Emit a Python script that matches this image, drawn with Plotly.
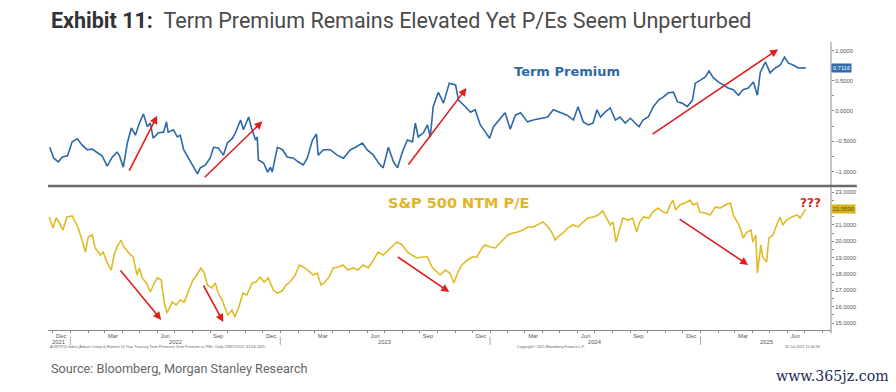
import plotly.graph_objects as go

# ---------------- data ----------------
tp_dates = [
    "2021-11-26", "2021-12-03", "2021-12-11", "2021-12-18", "2021-12-27", "2022-01-04", "2022-01-13",
    "2022-01-21", "2022-01-30", "2022-02-08", "2022-02-17", "2022-02-25", "2022-03-06", "2022-03-15",
    "2022-03-23", "2022-03-27", "2022-04-03", "2022-04-10", "2022-04-17", "2022-04-24", "2022-05-01",
    "2022-05-08", "2022-05-15", "2022-05-20", "2022-05-25", "2022-06-03", "2022-06-12", "2022-06-17",
    "2022-06-20", "2022-06-29", "2022-07-06", "2022-07-11", "2022-07-17", "2022-07-25", "2022-08-03",
    "2022-08-10", "2022-08-15", "2022-08-24", "2022-09-01", "2022-09-07", "2022-09-15", "2022-09-24",
    "2022-10-01", "2022-10-10", "2022-10-15", "2022-10-24", "2022-10-29", "2022-11-07", "2022-11-12",
    "2022-11-19", "2022-11-22", "2022-11-24", "2022-12-03", "2022-12-10", "2022-12-15", "2022-12-18",
    "2022-12-27", "2023-01-05", "2023-01-13", "2023-01-24", "2023-02-01", "2023-02-10", "2023-02-17",
    "2023-02-26", "2023-03-05", "2023-03-08", "2023-03-17", "2023-03-29", "2023-04-10", "2023-04-21",
    "2023-05-03", "2023-05-12", "2023-05-24", "2023-06-01", "2023-06-12", "2023-06-21", "2023-06-29",
    "2023-07-08", "2023-07-17", "2023-07-24", "2023-08-01", "2023-08-10", "2023-08-19", "2023-08-24",
    "2023-08-29", "2023-09-07", "2023-09-14", "2023-09-19", "2023-09-24", "2023-10-03", "2023-10-12",
    "2023-10-22", "2023-11-02", "2023-11-07", "2023-11-19", "2023-11-28", "2023-12-06", "2023-12-15",
    "2023-12-24", "2023-12-31", "2024-01-07", "2024-01-19", "2024-01-27", "2024-02-05", "2024-02-14",
    "2024-02-23", "2024-03-06", "2024-03-16", "2024-03-28", "2024-04-10", "2024-04-20", "2024-05-02",
    "2024-05-14", "2024-05-25", "2024-06-02", "2024-06-11", "2024-06-20", "2024-06-28", "2024-07-05",
    "2024-07-11", "2024-07-19", "2024-07-28", "2024-08-06", "2024-08-14", "2024-08-23", "2024-09-01",
    "2024-09-10", "2024-09-16", "2024-09-23", "2024-10-02", "2024-10-11", "2024-10-20", "2024-10-28",
    "2024-11-06", "2024-11-15", "2024-11-22", "2024-11-30", "2024-12-09", "2024-12-18", "2024-12-23",
    "2025-01-01", "2025-01-09", "2025-01-16", "2025-01-23", "2025-02-01", "2025-02-10", "2025-02-18",
    "2025-02-27", "2025-03-08", "2025-03-16", "2025-03-25", "2025-04-03", "2025-04-10", "2025-04-15",
    "2025-04-24", "2025-05-02", "2025-05-11", "2025-05-20", "2025-05-27", "2025-06-03", "2025-06-11",
    "2025-06-20", "2025-07-03",
]
tp_values = [
    -0.60, -0.78, -0.84, -0.76, -0.74, -0.51, -0.46,
    -0.56, -0.64, -0.63, -0.69, -0.74, -0.91, -0.76,
    -0.68, -0.73, -0.93, -0.53, -0.28, -0.40, -0.20,
    -0.05, -0.26, -0.20, -0.45, -0.36, -0.35, -0.18,
    -0.35, -0.31, -0.43, -0.40, -0.64, -0.78, -0.93,
    -1.04, -0.94, -0.89, -0.78, -0.60, -0.61, -0.73,
    -0.53, -0.45, -0.36, -0.15, -0.31, -0.10, -0.28,
    -0.48, -0.43, -0.81, -0.86, -1.01, -0.93, -1.01,
    -0.60, -0.64, -0.76, -0.78, -0.84, -0.89, -0.78,
    -0.48, -0.38, -0.73, -0.64, -0.64, -0.73, -0.78,
    -0.64, -0.60, -0.53, -0.64, -0.73, -0.86, -0.94,
    -0.60, -0.84, -0.94, -0.69, -0.48, -0.51, -0.20,
    -0.43, -0.36, -0.23, -0.43, 0.07, 0.31, 0.13,
    0.46, 0.43, 0.18, 0.07, -0.02, 0.02, -0.23,
    -0.35, -0.45, -0.26, -0.12, -0.03, -0.30, -0.07,
    -0.03, -0.18, -0.15, -0.12, -0.10, 0.02, -0.02,
    -0.07, -0.15, 0.07, -0.18, -0.23, -0.20, 0.02,
    -0.10, -0.02, 0.05, -0.15, -0.10, -0.20, -0.12,
    -0.20, -0.26, -0.15, -0.10, 0.07, 0.18, 0.23,
    0.30, 0.31, 0.15, 0.13, 0.07, 0.18, 0.46,
    0.51, 0.56, 0.66, 0.55, 0.48, 0.43, 0.38,
    0.35, 0.26, 0.35, 0.38, 0.48, 0.26, 0.64,
    0.81, 0.63, 0.71, 0.76, 0.89, 0.79, 0.76,
    0.71, 0.7116,
]

pe_dates = [
    "2021-11-25", "2021-12-02", "2021-12-07", "2021-12-12", "2021-12-19", "2021-12-26", "2022-01-04",
    "2022-01-09", "2022-01-14", "2022-01-21", "2022-01-27", "2022-02-01", "2022-02-08", "2022-02-13",
    "2022-02-22", "2022-02-27", "2022-03-06", "2022-03-13", "2022-03-18", "2022-03-23", "2022-03-30",
    "2022-04-04", "2022-04-11", "2022-04-20", "2022-04-27", "2022-05-01", "2022-05-06", "2022-05-13",
    "2022-05-20", "2022-05-27", "2022-06-01", "2022-06-08", "2022-06-13", "2022-06-18", "2022-06-27",
    "2022-07-04", "2022-07-11", "2022-07-18", "2022-07-25", "2022-08-02", "2022-08-09", "2022-08-16",
    "2022-08-22", "2022-08-27", "2022-09-04", "2022-09-10", "2022-09-15", "2022-09-22", "2022-09-27",
    "2022-10-02", "2022-10-09", "2022-10-14", "2022-10-21", "2022-10-28", "2022-11-04", "2022-11-13",
    "2022-11-20", "2022-11-27", "2022-12-04", "2022-12-11", "2022-12-20", "2022-12-27", "2023-01-04",
    "2023-01-11", "2023-01-18", "2023-01-27", "2023-02-03", "2023-02-10", "2023-02-18", "2023-02-27",
    "2023-03-06", "2023-03-13", "2023-03-20", "2023-03-27", "2023-04-03", "2023-04-12", "2023-04-20",
    "2023-04-29", "2023-05-08", "2023-05-16", "2023-05-25", "2023-06-03", "2023-06-12", "2023-06-20",
    "2023-06-29", "2023-07-08", "2023-07-16", "2023-07-23", "2023-08-01", "2023-08-10", "2023-08-18",
    "2023-08-27", "2023-09-05", "2023-09-14", "2023-09-22", "2023-09-27", "2023-10-06", "2023-10-15",
    "2023-10-23", "2023-10-30", "2023-11-06", "2023-11-13", "2023-11-22", "2023-12-01", "2023-12-09",
    "2023-12-18", "2023-12-23", "2024-01-01", "2024-01-10", "2024-01-18", "2024-01-27", "2024-02-01",
    "2024-02-10", "2024-02-18", "2024-02-27", "2024-03-07", "2024-03-16", "2024-03-24", "2024-04-02",
    "2024-04-11", "2024-04-18", "2024-04-23", "2024-04-28", "2024-05-07", "2024-05-15", "2024-05-24",
    "2024-06-02", "2024-06-11", "2024-06-19", "2024-06-28", "2024-07-07", "2024-07-15", "2024-07-22",
    "2024-07-28", "2024-08-02", "2024-08-07", "2024-08-12", "2024-08-19", "2024-08-28", "2024-09-05",
    "2024-09-12", "2024-09-17", "2024-09-24", "2024-10-03", "2024-10-10", "2024-10-19", "2024-10-28",
    "2024-11-04", "2024-11-09", "2024-11-14", "2024-11-19", "2024-11-26", "2024-12-05", "2024-12-14",
    "2024-12-19", "2024-12-26", "2024-12-31", "2025-01-09", "2025-01-18", "2025-01-27", "2025-02-04",
    "2025-02-13", "2025-02-22", "2025-02-27", "2025-03-06", "2025-03-11", "2025-03-16", "2025-03-23",
    "2025-03-30", "2025-04-02", "2025-04-07", "2025-04-10", "2025-04-16", "2025-04-19", "2025-04-26",
    "2025-04-30", "2025-05-07", "2025-05-14", "2025-05-19", "2025-05-24", "2025-05-31", "2025-06-09",
    "2025-06-18", "2025-06-23", "2025-06-28", "2025-07-03",
]
pe_values = [
    21.48, 20.80, 21.41, 21.17, 20.68, 21.48, 21.54,
    21.17, 20.87, 20.07, 19.34, 20.26, 20.38, 19.59,
    19.16, 19.34, 18.67, 18.24, 19.16, 19.65, 20.07,
    19.65, 19.34, 19.04, 17.94, 18.37, 17.76, 17.45,
    16.90, 17.45, 17.76, 17.63, 16.29, 15.62, 16.29,
    16.11, 16.41, 16.29, 16.90, 17.63, 17.94, 18.37,
    18.06, 17.33, 17.15, 17.45, 16.84, 16.41, 15.93,
    15.50, 15.80, 15.38, 15.99, 16.84, 16.72, 17.45,
    17.51, 17.82, 17.51, 17.76, 17.02, 16.84, 16.96,
    17.33, 17.51, 17.94, 18.55, 18.43, 18.24, 17.94,
    18.06, 17.33, 17.51, 17.82, 18.37, 18.43, 18.55,
    18.24, 18.37, 18.24, 18.55, 18.37, 18.85, 19.34,
    19.16, 19.46, 19.77, 19.95, 19.77, 19.34, 19.16,
    18.98, 19.04, 19.04, 18.43, 18.24, 17.94, 18.24,
    18.06, 17.45, 18.12, 18.55, 18.85, 19.04, 19.04,
    19.59, 19.77, 19.65, 19.59, 19.89, 20.20, 20.38,
    20.50, 20.56, 20.68, 20.87, 20.87, 20.99, 21.17,
    20.87, 20.50, 20.07, 20.26, 20.50, 20.80, 20.99,
    20.87, 21.17, 21.41, 21.48, 21.60, 21.84, 21.41,
    20.99, 21.17, 19.95, 20.56, 21.41, 21.29, 21.41,
    20.56, 21.17, 21.48, 21.41, 21.78, 22.02, 21.78,
    21.72, 22.21, 22.51, 21.90, 22.21, 22.33, 22.51,
    22.21, 22.33, 21.78, 21.72, 21.60, 22.09, 22.02,
    22.21, 22.33, 21.60, 21.17, 20.80, 20.20, 20.56,
    20.68, 19.95, 20.38, 18.06, 19.77, 19.04, 18.73,
    20.20, 20.38, 20.99, 21.48, 20.99, 21.29, 21.48,
    21.60, 21.41, 21.72, 21.959,
]

month_tick_dates = [
    "2021-12-16", "2022-03-16", "2022-06-15", "2022-09-15", "2022-12-16", "2023-03-16",
    "2023-06-15", "2023-09-15", "2023-12-16", "2024-03-16", "2024-06-15", "2024-09-15",
    "2024-12-16", "2025-03-16", "2025-06-15",
]
month_tick_text = ["Dec", "Mar", "Jun", "Sep", "Dec", "Mar", "Jun", "Sep",
                   "Dec", "Mar", "Jun", "Sep", "Dec", "Mar", "Jun"]
month_starts = [f"{y}-{m:02d}-01" for y in range(2021, 2026) for m in range(1, 13)]
year_label_dates = ["2021-12-12", "2022-07-02", "2023-07-02", "2024-07-01", "2025-04-25"]
year_label_text = ["2021", "2022", "2023", "2024", "2025"]
year_starts = ["2022-01-01", "2023-01-01", "2024-01-01", "2025-01-01"]

tp_ticks = [-1.0, -0.5, 0.0, 0.5, 1.0]
pe_ticks = [15, 16, 17, 18, 19, 20, 21, 23]   # 22 is hidden behind the last-value box

# arrows: (start date, start value, end date, end value)
tp_arrows = [
    ("2022-04-12", -1.01, "2022-06-01", -0.08),
    ("2022-08-20", -1.12, "2022-12-01", -0.17),
    ("2023-08-10", -0.91, "2023-11-21", 0.38),
    ("2024-10-07", -0.40, "2025-05-16", 1.02),
]
pe_arrows = [
    ("2022-03-27", 18.30, "2022-06-08", 15.20),
    ("2022-08-19", 17.39, "2022-09-24", 15.07),
    ("2023-07-22", 19.10, "2023-10-22", 16.90),
    ("2024-11-23", 21.41, "2025-03-25", 18.55),
]

BLUE = "#2d68a6"
GOLD = "#dfbb26"
RED = "#e21d1d"
AXC = "#8a8a8a"
TXT = "#555555"

fig = go.Figure()
fig.add_trace(go.Scatter(x=tp_dates, y=tp_values, mode="lines", xaxis="x", yaxis="y",
                         line=dict(color=BLUE, width=1.6), showlegend=False, hoverinfo="skip"))
fig.add_trace(go.Scatter(x=pe_dates, y=pe_values, mode="lines", xaxis="x", yaxis="y2",
                         line=dict(color=GOLD, width=1.6), showlegend=False, hoverinfo="skip"))

tickfont = dict(family="Liberation Sans, Arial", size=5.8, color=TXT)

# the page body adds an 8px offset, so the figure is 8px smaller and margins shifted
fig.update_layout(
    width=888, height=384,
    margin=dict(l=40, r=65, t=34, b=62, autoexpand=False),
    paper_bgcolor="white", plot_bgcolor="white",
    xaxis=dict(
        type="date", range=["2021-11-23", "2025-08-16"], anchor="y2", automargin=False,
        tickmode="array", tickvals=month_tick_dates, ticktext=month_tick_text,
        ticks="", ticklen=0, tickfont=tickfont, showgrid=False, zeroline=False,
        showline=True, linecolor=AXC, linewidth=1,
        minor=dict(tickmode="array", tickvals=month_starts, ticks="outside",
                   ticklen=2, tickcolor=AXC, showgrid=False),
    ),
    yaxis=dict(
        domain=[0.5, 1.0], range=[-1.24, 1.14], anchor="x", side="right", automargin=False,
        tickmode="array", tickvals=tp_ticks, tickformat=".4f",
        ticks="outside", ticklen=2, tickcolor=AXC, tickfont=tickfont,
        showgrid=False, zeroline=False, showline=False,
        minor=dict(dtick=0.25, ticks="outside", ticklen=2, tickcolor=AXC, showgrid=False),
    ),
    yaxis2=dict(
        domain=[0.0, 0.493], range=[14.585, 23.244], anchor="x", side="right", automargin=False,
        tickmode="array", tickvals=pe_ticks, tickformat=".4f",
        ticks="outside", ticklen=2, tickcolor=AXC, tickfont=tickfont,
        showgrid=False, zeroline=False, showline=False,
        minor=dict(dtick=0.5, ticks="outside", ticklen=2, tickcolor=AXC, showgrid=False),
    ),
)

shapes = [
    dict(type="line", xref="paper", yref="paper", x0=1, x1=1, y0=-0.012, y1=1.0,
         line=dict(color=AXC, width=1)),
    dict(type="line", xref="paper", yref="paper", x0=0, x1=1.033, y0=0.5, y1=0.5,
         line=dict(color="#6a6a6a", width=2.5)),
]
for d in year_starts:
    shapes.append(dict(type="line", xref="x", yref="paper", x0=d, x1=d, y0=-0.024, y1=-0.052,
                       line=dict(color="#aaaaaa", width=1)))
fig.update_layout(shapes=shapes)

ann = []
ann.append(dict(xref="paper", yref="paper", x=0.001, y=1.076, xanchor="left", yanchor="middle",
                showarrow=False,
                text="<b>Exhibit 11:</b>&nbsp;&nbsp;<span style='color:#4a4a4a'>Term Premium Remains Elevated Yet P/Es Seem Unperturbed</span>",
                font=dict(family="Roboto", size=21.5, color="#333333")))
ann.append(dict(xref="paper", yref="paper", x=0.001, y=-0.135, xanchor="left", yanchor="middle",
                showarrow=False, text="Source: Bloomberg, Morgan Stanley Research",
                font=dict(family="Roboto", size=12.7, color="#666666")))
ann.append(dict(xref="paper", yref="paper", x=0.927, y=-0.160, xanchor="left", yanchor="middle",
                showarrow=False, text="www.365jz.com",
                font=dict(family="DejaVu Serif", size=14.2, color="#1b2a5c")))
tiny = dict(family="Liberation Sans, Arial", size=3.7, color="#666666")
ann.append(dict(xref="paper", yref="paper", x=0.0, y=-0.058, xanchor="left", yanchor="middle",
                showarrow=False, font=tiny,
                text="ACMTP10 Index (Adrian Crump & Moench 10 Year Treasury Term Premium) Term Premium vs P/Es  Daily 22NOV2021-31JUL2025"))
ann.append(dict(xref="paper", yref="paper", x=0.596, y=-0.058, xanchor="left", yanchor="middle",
                showarrow=False, font=tiny, text="Copyright© 2025 Bloomberg Finance L.P."))
ann.append(dict(xref="paper", yref="paper", x=0.989, y=-0.058, xanchor="right", yanchor="middle",
                showarrow=False, font=tiny, text="31-Jul-2025 12:40:30"))
for d, t in zip(year_label_dates, year_label_text):
    ann.append(dict(xref="x", yref="paper", x=d, y=-0.040, xanchor="center", yanchor="middle",
                    showarrow=False, text=t, font=tickfont))
ann.append(dict(xref="x", yref="y", x="2024-05-14", y=0.645, showarrow=False, text="<b>Term Premium</b>",
                font=dict(family="DejaVu Sans", size=13, color="#2e6aa3")))
ann.append(dict(xref="x", yref="y2", x="2023-11-07", y=22.33, showarrow=False, text="<b>S&P 500 NTM P/E</b>",
                font=dict(family="DejaVu Sans", size=14.5, color="#e1b623")))
ann.append(dict(xref="x", yref="y2", x="2025-07-12", y=22.33, showarrow=False, text="<b>???</b>",
                font=dict(family="DejaVu Sans", size=12, color=RED)))
ann.append(dict(xref="paper", yref="y", x=1, y=tp_values[-1], xanchor="left", xshift=0, showarrow=False,
                text=f"{tp_values[-1]:.4f}", bgcolor="#2f6cab", borderpad=1,
                font=dict(family="Liberation Sans, Arial", size=5.8, color="white")))
ann.append(dict(xref="paper", yref="y2", x=1, y=pe_values[-1], xanchor="left", xshift=0, showarrow=False,
                text=f"{pe_values[-1]:.4f}", bgcolor="#d6b11e", borderpad=1,
                font=dict(family="Liberation Sans, Arial", size=5.8, color="#6a5608")))
for (x0, y0, x1, y1) in tp_arrows:
    ann.append(dict(xref="x", yref="y", axref="x", ayref="y", x=x1, y=y1, ax=x0, ay=y0,
                    showarrow=True, arrowhead=2, arrowsize=1, arrowwidth=1.6, arrowcolor=RED, text=""))
for (x0, y0, x1, y1) in pe_arrows:
    ann.append(dict(xref="x", yref="y2", axref="x", ayref="y2", x=x1, y=y1, ax=x0, ay=y0,
                    showarrow=True, arrowhead=2, arrowsize=1, arrowwidth=1.6, arrowcolor=RED, text=""))
fig.update_layout(annotations=ann)

fig.write_html("out.html")
